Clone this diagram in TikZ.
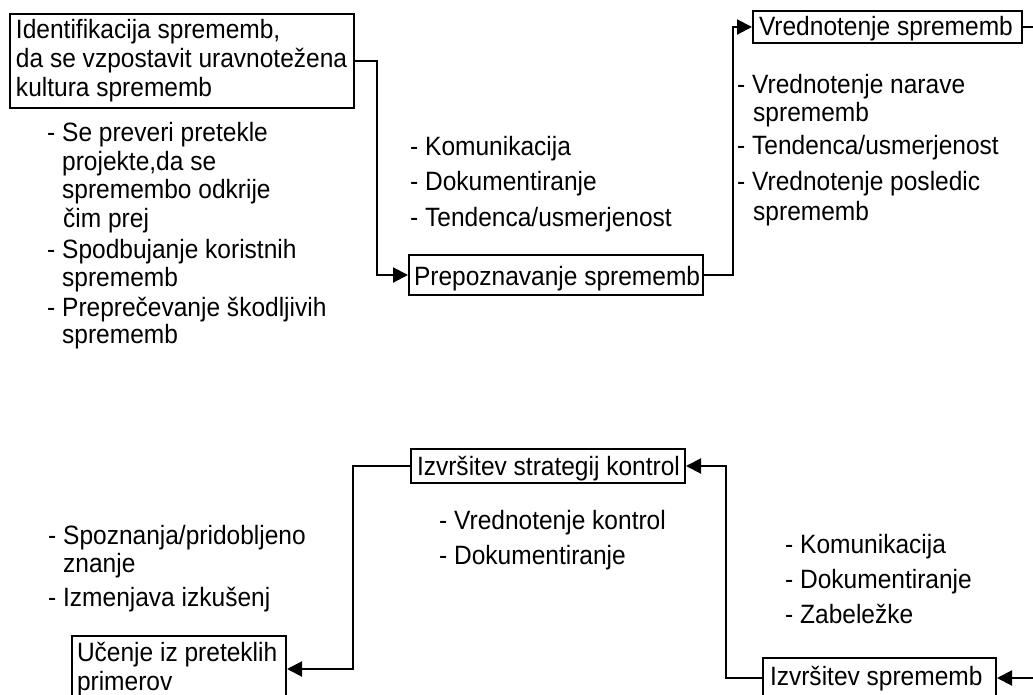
\documentclass[tikz,border=0pt]{standalone}
\usepackage{fontspec}
\setmainfont{Liberation Sans}[FakeStretch=0.925]
\usetikzlibrary{arrows.meta}
\begin{document}
\begin{tikzpicture}[x=1pt,y=-1pt,
  every node/.style={font=\fontsize{26.5}{29}\selectfont},
  box/.style={draw, line width=2pt, inner ysep=0pt, align=flush left},
  item/.style={anchor=base west, inner sep=0pt},
  link/.style={line width=2pt},
  flow/.style={link, -{Triangle[length=15pt,width=15pt]}}]

\useasboundingbox (0,0) rectangle (1033,695);
\clip (0,0) rectangle (1033,695);

% boxes
\node[box, inner xsep=6pt, text width=332pt, minimum height=94pt] (ident) at (182,61)
  {\mbox{Identifikacija sprememb,}\\\mbox{da se vzpostavit uravnotežena}\\\mbox{kultura sprememb}};
\node[box, inner xsep=5pt, text width=284pt, text height=30pt, text depth=10pt] (prep) at (556,275)
  {\mbox{Prepoznavanje sprememb}};
\node[box, inner xsep=6pt, text width=257pt, text height=25pt, text depth=7pt] (vred) at (887.5,27)
  {\mbox{Vrednotenje sprememb}};
\node[box, inner xsep=6pt, text width=262pt, text height=26pt, text depth=8pt] (strat) at (548,466)
  {\mbox{Izvršitev strategij kontrol}};
\node[box, inner xsep=7pt, text width=219pt, text height=27pt, text depth=13pt] (izs) at (879.5,678)
  {\mbox{Izvršitev sprememb}};
\node[box, inner xsep=5pt, text width=204pt, minimum height=66pt] (ucenje) at (179,669)
  {\mbox{Učenje iz preteklih}\\\mbox{primerov}};

% free ends at the right margin
\coordinate (outTop) at (1040,27);
\coordinate (inBot) at (1040,678);

% connectors
\draw[flow] (ident.east) -- ++(22,0) |- (prep.west);
\draw[flow] (prep.east) -- ++(29,0) |- (vred.west);
\draw[link] (vred.east) -- (outTop);
\draw[flow] (inBot) -- (izs.east);
\draw[flow] (izs.west) -- ++(-36,0) |- (strat.east);
\draw[flow] (strat.west) -- ++(-57,0) |- (ucenje.east);

% notes: identification
\node[item] (a1) at (47,142) {- Se preveri pretekle};
\node[item] (a2) at (62,171) {projekte,da se};
\node[item] (a3) at (62,199) {spremembo odkrije};
\node[item] (a4) at (63,228) {čim prej};
\node[item] (a5) at (47,258) {- Spodbujanje koristnih};
\node[item] (a6) at (62,286) {sprememb};
\node[item] (a7) at (47,316) {- Preprečevanje škodljivih};
\node[item] (a8) at (62,343) {sprememb};

% notes: recognition
\node[item] (b1) at (410,156) {- Komunikacija};
\node[item] (b2) at (410,191) {- Dokumentiranje};
\node[item] (b3) at (410,226) {- Tendenca/usmerjenost};

% notes: evaluation
\node[item] (c1) at (737,94) {- Vrednotenje narave};
\node[item] (c2) at (753,122) {sprememb};
\node[item] (c3) at (737,155) {- Tendenca/usmerjenost};
\node[item] (c4) at (737,191) {- Vrednotenje posledic};
\node[item] (c5) at (753,220) {sprememb};

% notes: implementation
\node[item] (d1) at (785,553) {- Komunikacija};
\node[item] (d2) at (785,588) {- Dokumentiranje};
\node[item] (d3) at (785,623) {- Zabeležke};

% notes: control strategies
\node[item] (f1) at (439,529) {- Vrednotenje kontrol};
\node[item] (f2) at (439,564) {- Dokumentiranje};

% notes: lessons learned
\node[item] (e1) at (48,544) {- Spoznanja/pridobljeno};
\node[item] (e2) at (63,572) {znanje};
\node[item] (e3) at (48,606) {- Izmenjava izkušenj};
\end{tikzpicture}
\end{document}
